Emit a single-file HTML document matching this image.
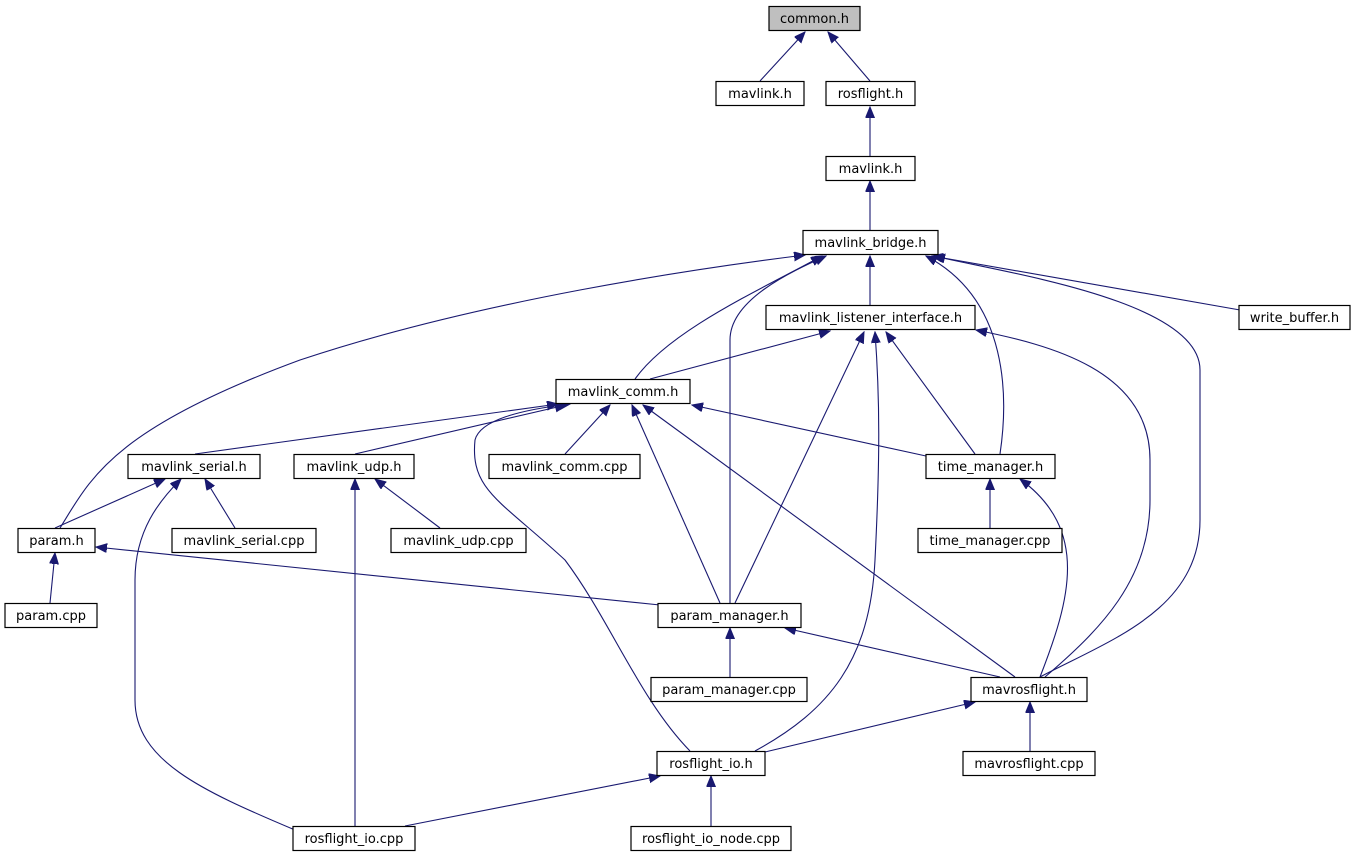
<!DOCTYPE html>
<html><head><meta charset="utf-8"><style>
html,body{margin:0;padding:0;background:#fff;}
svg{display:block;}
text{font-family:"DejaVu Sans",sans-serif;font-size:13px;fill:#000;}
.n{fill:#fff;stroke:#000;stroke-width:1.2;}
.e{fill:none;stroke:#191970;stroke-width:1.1;marker-end:url(#a);}
</style></head><body>
<svg width="1355" height="859" viewBox="0 0 1355 859">
<defs><marker id="a" markerUnits="userSpaceOnUse" markerWidth="12" markerHeight="10" refX="11" refY="4.5" orient="auto"><polygon points="0,0 11,4.5 0,9" fill="#191970" stroke="#191970"/></marker></defs>
<g>
<path class="e" d="M760,81 L805,32"/>
<path class="e" d="M870,81 L828,32"/>
<path class="e" d="M870,156 L870,107"/>
<path class="e" d="M870,230 L870,181"/>
<path class="e" d="M870,305 L870,256"/>
<path class="e" d="M1240,310 L932,256"/>
<path class="e" d="M635,379 C670,330 760,290 822,256"/>
<path class="e" d="M60,528 C90,480 110,430 300,360 C480,300 700,268 805,255"/>
<path class="e" d="M730,603 L730,340 C730,300 790,272 826,256"/>
<path class="e" d="M1000,454 C1008,400 1010,300 926,256"/>
<path class="e" d="M1040,677 C1110,640 1200,610 1200,520 L1200,370 C1200,300 1000,272 934,256"/>
<path class="e" d="M650,379 L830,331"/>
<path class="e" d="M735,603 L864,332"/>
<path class="e" d="M755,751 C830,710 870,660 875,560 C880,460 880,400 875,332"/>
<path class="e" d="M975,454 L886,332"/>
<path class="e" d="M1045,677 C1100,630 1150,580 1150,500 L1150,460 C1150,370 1050,345 976,330"/>
<path class="e" d="M195,454 L558,404"/>
<path class="e" d="M355,454 L566,405"/>
<path class="e" d="M565,454 L610,405"/>
<path class="e" d="M926,456 L692,405"/>
<path class="e" d="M720,603 L632,405"/>
<path class="e" d="M1015,677 L643,405"/>
<path class="e" d="M690,751 C640,700 610,620 565,560 C500,500 470,490 475,440 C480,420 520,410 570,404"/>
<path class="e" d="M55,528 L165,479"/>
<path class="e" d="M235,528 L205,479"/>
<path class="e" d="M295,830 C200,790 135,760 135,700 L135,580 C135,530 160,500 181,479"/>
<path class="e" d="M440,528 L375,479"/>
<path class="e" d="M355,826 L355,479"/>
<path class="e" d="M990,528 L990,479"/>
<path class="e" d="M1040,677 C1070,600 1090,530 1020,479"/>
<path class="e" d="M50,603 L55,553"/>
<path class="e" d="M660,605 L96,547"/>
<path class="e" d="M730,677 L730,628"/>
<path class="e" d="M1000,677 L785,628"/>
<path class="e" d="M1030,751 L1030,702"/>
<path class="e" d="M765,752 L975,702"/>
<path class="e" d="M405,826 L660,776"/>
<path class="e" d="M711,826 L711,776"/>
</g>
<g>
<rect x="769" y="6.5" width="91" height="24" fill="#bfbfbf" stroke="#000" stroke-width="1.2"/><text x="814.5" y="23" text-anchor="middle">common.h</text>
<rect class="n" x="716" y="81.5" width="88" height="24"/><text x="760" y="98" text-anchor="middle">mavlink.h</text>
<rect class="n" x="826" y="81.5" width="89" height="24"/><text x="870.5" y="98" text-anchor="middle">rosflight.h</text>
<rect class="n" x="826" y="156.5" width="89" height="24"/><text x="870.5" y="173" text-anchor="middle">mavlink.h</text>
<rect class="n" x="803" y="230.5" width="135" height="24"/><text x="870.5" y="247" text-anchor="middle">mavlink_bridge.h</text>
<rect class="n" x="766" y="305.5" width="209" height="24"/><text x="870.5" y="322" text-anchor="middle">mavlink_listener_interface.h</text>
<rect class="n" x="1239" y="305.5" width="111" height="24"/><text x="1294.5" y="322" text-anchor="middle">write_buffer.h</text>
<rect class="n" x="556" y="379.5" width="134" height="24"/><text x="623" y="396" text-anchor="middle">mavlink_comm.h</text>
<rect class="n" x="128" y="454.5" width="132" height="24"/><text x="194" y="471" text-anchor="middle">mavlink_serial.h</text>
<rect class="n" x="294" y="454.5" width="120" height="24"/><text x="354" y="471" text-anchor="middle">mavlink_udp.h</text>
<rect class="n" x="489" y="454.5" width="151" height="24"/><text x="564.5" y="471" text-anchor="middle">mavlink_comm.cpp</text>
<rect class="n" x="926" y="454.5" width="129" height="24"/><text x="990.5" y="471" text-anchor="middle">time_manager.h</text>
<rect class="n" x="18" y="528.5" width="77" height="24"/><text x="56.5" y="545" text-anchor="middle">param.h</text>
<rect class="n" x="172" y="528.5" width="144" height="24"/><text x="244" y="545" text-anchor="middle">mavlink_serial.cpp</text>
<rect class="n" x="391" y="528.5" width="135" height="24"/><text x="458.5" y="545" text-anchor="middle">mavlink_udp.cpp</text>
<rect class="n" x="918" y="528.5" width="144" height="24"/><text x="990" y="545" text-anchor="middle">time_manager.cpp</text>
<rect class="n" x="5" y="603.5" width="92" height="24"/><text x="51" y="620" text-anchor="middle">param.cpp</text>
<rect class="n" x="658" y="603.5" width="143" height="24"/><text x="729.5" y="620" text-anchor="middle">param_manager.h</text>
<rect class="n" x="651" y="677.5" width="156" height="24"/><text x="729" y="694" text-anchor="middle">param_manager.cpp</text>
<rect class="n" x="971" y="677.5" width="116" height="24"/><text x="1029" y="694" text-anchor="middle">mavrosflight.h</text>
<rect class="n" x="657" y="751.5" width="108" height="24"/><text x="711" y="768" text-anchor="middle">rosflight_io.h</text>
<rect class="n" x="963" y="751.5" width="132" height="24"/><text x="1029" y="768" text-anchor="middle">mavrosflight.cpp</text>
<rect class="n" x="293" y="826.5" width="122" height="24"/><text x="354" y="843" text-anchor="middle">rosflight_io.cpp</text>
<rect class="n" x="631" y="826.5" width="160" height="24"/><text x="711" y="843" text-anchor="middle">rosflight_io_node.cpp</text>
</g>
</svg>
</body></html>
